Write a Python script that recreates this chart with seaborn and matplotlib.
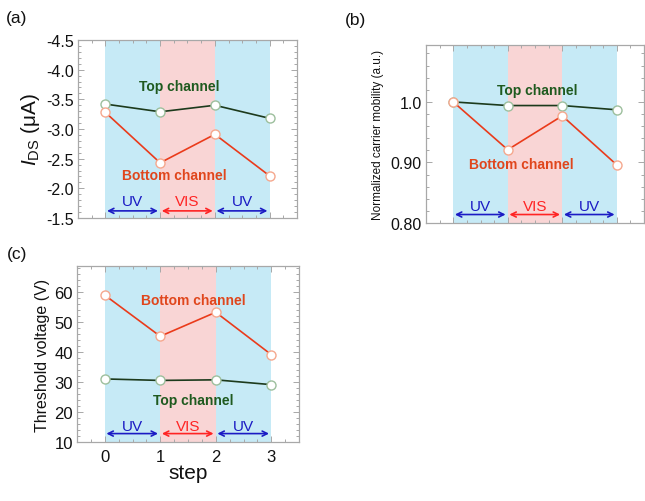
import matplotlib
matplotlib.use("Agg")
import matplotlib.pyplot as plt
import seaborn as sns
import pandas as pd
from matplotlib.ticker import MultipleLocator, FixedLocator, FixedFormatter

# ---------------- data ----------------
steps = [0, 1, 2, 3]
ids_top = [-3.42, -3.29, -3.40, -3.18]
ids_bottom = [-3.28, -2.43, -2.91, -2.21]
mob_top = [1.0, 0.994, 0.994, 0.987]
mob_bottom = [1.0, 0.921, 0.977, 0.896]
vth_top = [31.0, 30.5, 30.7, 29.1]
vth_bottom = [58.9, 45.2, 53.2, 39.1]
series_names = ["Top channel", "Bottom channel"]
region_labels = ["UV", "VIS", "UV"]
region_bounds = [(0, 1), (1, 2), (2, 3)]
ids_ticks = [-4.5, -4.0, -3.5, -3.0, -2.5, -2.0, -1.5]
ids_ticklabels = ["-4.5", "-4.0", "-3.5", "-3.0", "-2.5", "-2.0", "-1.5"]
mob_ticks = [0.80, 0.90, 1.0]
mob_ticklabels = ["0.80", "0.90", "1.0"]
vth_ticks = [10, 20, 30, 40, 50, 60]
step_ticks = [0, 1, 2, 3]

sns.set_theme(style="ticks")
plt.rcParams["font.family"] = ["Liberation Sans", "DejaVu Sans"]
plt.rcParams["mathtext.fontset"] = "custom"
plt.rcParams["mathtext.rm"] = "Liberation Sans"
plt.rcParams["mathtext.it"] = "Liberation Sans:italic"
plt.rcParams["axes.unicode_minus"] = False
for k in ["text.color", "axes.labelcolor", "xtick.labelcolor", "ytick.labelcolor"]:
    plt.rcParams[k] = "#111111"

C_UV_BAND = "#c6eaf6"
C_VIS_BAND = "#f9d5d5"
C_TOP_LINE = "#1c3a1c"
C_TOP_EDGE = "#9dbf9d"
C_TOP_TXT = "#1f5a1f"
C_BOT_LINE = "#ea3b1b"
C_BOT_EDGE = "#f5a88e"
C_BOT_TXT = "#e0461c"
C_UV = "#1b1bc4"
C_VIS = "#ff2424"
SPINE = "#a8a8a8"

fig = plt.figure(figsize=(6.45, 5.02), dpi=100)
W, H = 645, 502


def ax_at(l, r, t, b):
    return fig.add_axes([l / W, 1 - b / H, (r - l) / W, (b - t) / H])


def style_axes(ax):
    for s in ax.spines.values():
        s.set_color(SPINE)
        s.set_linewidth(0.9)
    ax.tick_params(which="both", direction="in", top=True, right=True,
                   color=SPINE, width=0.7)
    ax.tick_params(which="major", length=4)
    ax.tick_params(which="minor", length=2)
    ax.set_xlim(-0.5, 3.5)
    ax.xaxis.set_major_locator(FixedLocator(step_ticks))
    ax.xaxis.set_minor_locator(MultipleLocator(0.25))


def draw_panel(ax, top, bottom, arrow_y, text_y):
    for (a, b), lab in zip(region_bounds, region_labels):
        ax.axvspan(a, b, color=C_UV_BAND if lab == "UV" else C_VIS_BAND,
                   lw=0, zorder=0)
        col = C_UV if lab == "UV" else C_VIS
        ax.annotate("", xy=(a + 0.03, arrow_y), xytext=(b - 0.04, arrow_y),
                    arrowprops=dict(arrowstyle="<->", color=col, lw=1.2,
                                    mutation_scale=9, shrinkA=0, shrinkB=0),
                    zorder=4)
        ax.text((a + b) / 2, text_y, lab, color=col, fontsize=11,
                ha="center", va="center", zorder=4)
    df = pd.DataFrame({"step": steps * 2,
                       "value": list(top) + list(bottom),
                       "series": [series_names[0]] * 4 + [series_names[1]] * 4})
    sns.lineplot(data=df[df.series == series_names[0]], x="step", y="value",
                 ax=ax, color=C_TOP_LINE, lw=1.2, marker="o", markersize=6.5,
                 markerfacecolor="white", markeredgecolor=C_TOP_EDGE,
                 markeredgewidth=1.0, zorder=3, legend=False)
    sns.lineplot(data=df[df.series == series_names[1]], x="step", y="value",
                 ax=ax, color=C_BOT_LINE, lw=1.2, marker="o", markersize=6.5,
                 markerfacecolor="white", markeredgecolor=C_BOT_EDGE,
                 markeredgewidth=1.0, zorder=3, legend=False)
    ax.set_xlabel("")
    ax.set_ylabel("")


# ---------------- (a) ----------------
axa = ax_at(78, 297, 41, 219)
draw_panel(axa, ids_top, ids_bottom, arrow_y=-1.62, text_y=-1.79)
style_axes(axa)
axa.set_ylim(-1.5, -4.5)
axa.yaxis.set_major_locator(FixedLocator(ids_ticks))
axa.yaxis.set_major_formatter(FixedFormatter(ids_ticklabels))
axa.yaxis.set_minor_locator(MultipleLocator(0.1))
axa.set_xticklabels([])
axa.tick_params(axis="y", labelsize=11.5, pad=3)
axa.set_ylabel(r"$I_{\mathrm{DS}}$ ($\mathrm{\mu}$A)", fontsize=15, labelpad=3)
axa.text(1.35, -3.72, "Top channel", color=C_TOP_TXT, fontsize=10,
         fontweight="bold", ha="center", va="center")
axa.text(1.26, -2.22, "Bottom channel", color=C_BOT_TXT, fontsize=10,
         fontweight="bold", ha="center", va="center")
fig.text(17 / W, 1 - 18 / H, "(a)", fontsize=12.5, ha="center", va="center")

# ---------------- (b) ----------------
axb = ax_at(426, 644, 46, 224)
draw_panel(axb, mob_top, mob_bottom, arrow_y=0.814, text_y=0.828)
style_axes(axb)
axb.set_ylim(0.8, 1.094)
axb.yaxis.set_major_locator(FixedLocator(mob_ticks))
axb.yaxis.set_major_formatter(FixedFormatter(mob_ticklabels))
axb.yaxis.set_minor_locator(MultipleLocator(0.02))
axb.set_xticklabels([])
axb.tick_params(axis="y", labelsize=11.5, pad=3)
axb.set_ylabel("Normalized carrier mobility (a.u.)", fontsize=8.5, labelpad=5)
axb.text(1.54, 1.019, "Top channel", color=C_TOP_TXT, fontsize=10,
         fontweight="bold", ha="center", va="center")
axb.text(1.25, 0.898, "Bottom channel", color=C_BOT_TXT, fontsize=10,
         fontweight="bold", ha="center", va="center")
fig.text(355 / W, 1 - 20 / H, "(b)", fontsize=12.5, ha="center", va="center")

# ---------------- (c) ----------------
axc = ax_at(77, 299, 267, 443)
draw_panel(axc, vth_top, vth_bottom, arrow_y=12.8, text_y=15.2)
style_axes(axc)
axc.set_ylim(10, 68.6)
axc.yaxis.set_major_locator(FixedLocator(vth_ticks))
axc.yaxis.set_minor_locator(MultipleLocator(2))
axc.tick_params(axis="both", labelsize=12)
axc.tick_params(axis="y", pad=3)
axc.tick_params(axis="x", pad=5)
axc.set_ylabel("Threshold voltage (V)", fontsize=11.5, labelpad=3)
axc.set_xlabel("step", fontsize=15, labelpad=-1)
axc.text(1.59, 57.2, "Bottom channel", color=C_BOT_TXT, fontsize=10,
         fontweight="bold", ha="center", va="center")
axc.text(1.60, 24.1, "Top channel", color=C_TOP_TXT, fontsize=10,
         fontweight="bold", ha="center", va="center")
fig.text(17 / W, 1 - 255 / H, "(c)", fontsize=12.5, ha="center", va="center")

fig.savefig("out.png", dpi=100)
